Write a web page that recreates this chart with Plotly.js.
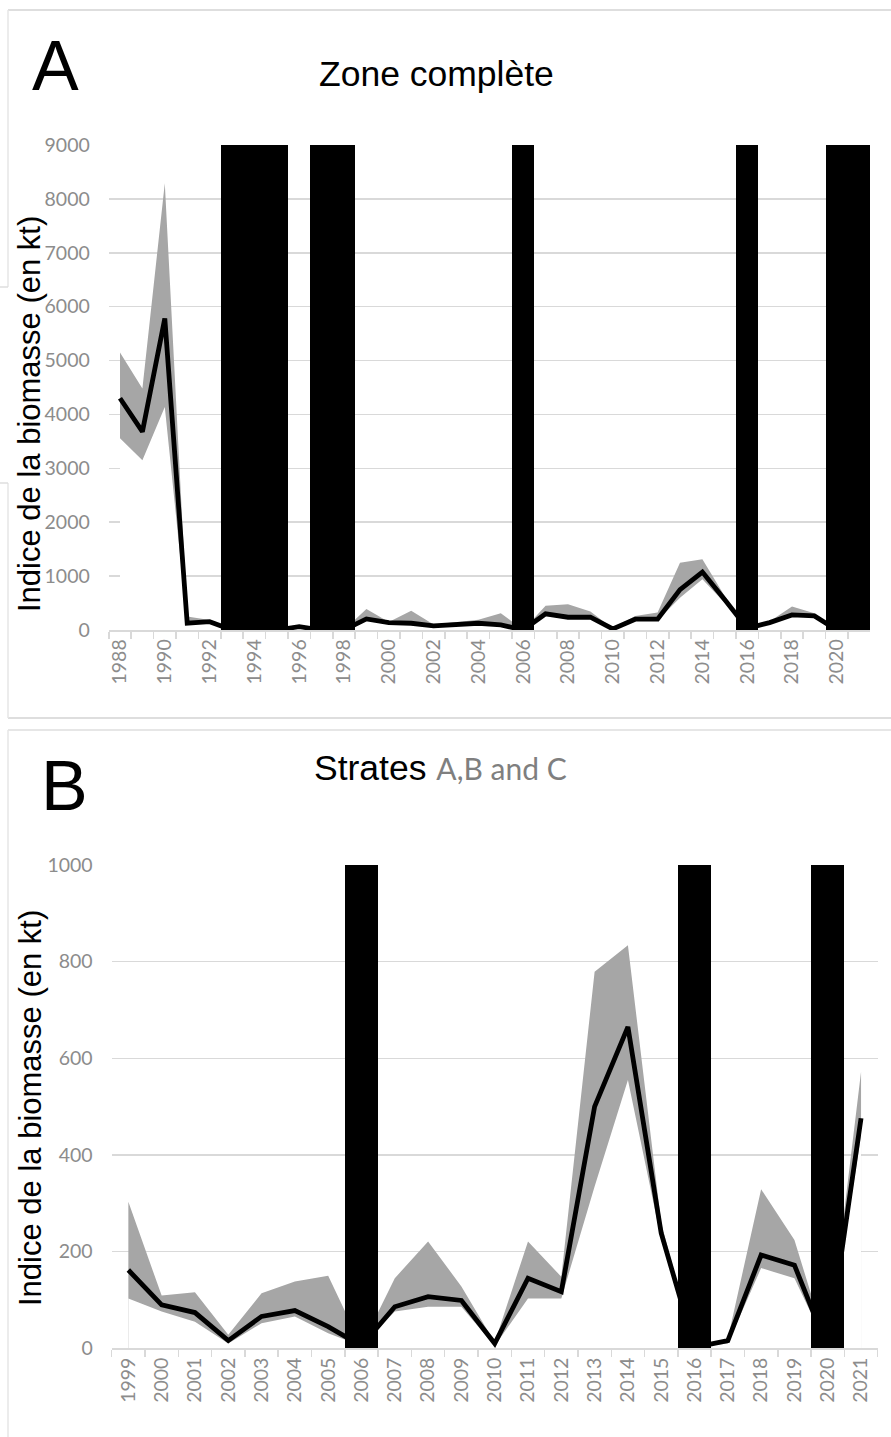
<!DOCTYPE html>
<html><head><meta charset="utf-8">
<script src="https://cdn.plot.ly/plotly-3.0.1.min.js"></script>
<style>html,body{margin:0;padding:0;background:#fff}#chart{width:891px;height:1437px}</style>
</head><body><div id="chart"></div>
<script>
// ---------- Panel A : Zone complète ----------
const yearsA = ['1988','1989','1990','1991','1992','1993','1994','1995','1996','1997','1998','1999','2000','2001','2002','2003','2004','2005','2006','2007','2008','2009','2010','2011','2012','2013','2014','2015','2016','2017','2018','2019','2020','2021'];
const biomassA = [4300,3680,5780,125,155,0,0,0,62,0,0,206,137,125,75,100,125,95,0,300,237,237,20,200,200,750,1075,562,30,137,281,262,0,0];
const upperA   = [5150,4480,8290,250,185,0,0,0,80,0,0,390,150,356,100,150,190,312,0,450,480,343,30,262,325,1250,1312,625,40,160,437,312,0,0];
const lowerA   = [3560,3150,4140,100,130,0,0,0,50,0,0,170,120,110,60,85,110,80,0,260,210,210,10,180,180,600,940,500,20,120,250,240,0,0];
const missingA = ['1993','1994','1995','1997','1998','2006','2016','2020','2021'];
const yTicksA  = [0,1000,2000,3000,4000,5000,6000,7000,8000,9000];
const tickTextA = yearsA.map((y,i) => i % 2 === 0 ? y : '');

// ---------- Panel B : Strates A,B and C ----------
const yearsB = ['1999','2000','2001','2002','2003','2004','2005','2006','2007','2008','2009','2010','2011','2012','2013','2014','2015','2016','2017','2018','2019','2020','2021'];
const biomassB = [162,90,74,16,66,78,45,5,86,107,99,10,145,117,500,665,238,2,16,193,172,0,476];
const upperB   = [303,109,116,28,114,138,150,5,145,221,128,12,221,148,779,834,259,2,20,329,224,0,572];
const lowerB   = [103,76,55,10,52,66,31,5,76,86,86,5,103,103,335,555,224,2,10,166,145,0,440];
const missingB = ['2006','2016','2020'];
const yTicksB  = [0,200,400,600,800,1000];

const yTitle = 'Indice de la biomasse (en kt)';

const W = 891, H = 1437;
const fx = p => p / W;
const fy = p => 1 - p / H;

const GRAY = '#a6a6a6', GRID = '#d9d9d9', TICK = '#8c8c8c';
const tickFont = {family: 'Lato, sans-serif', size: 19.5, color: TICK};
const titleFamily = '"Liberation Sans", Arial, sans-serif';

function bandTraces(x, up, lo, xa, ya) {
  return [
    {x: x, y: up, xaxis: xa, yaxis: ya, type: 'scatter', mode: 'lines', line: {width: 0, color: GRAY},
     fill: 'tozeroy', fillcolor: GRAY, hoverinfo: 'skip', showlegend: false},
    {x: x, y: lo, xaxis: xa, yaxis: ya, type: 'scatter', mode: 'lines', line: {width: 0, color: '#ffffff'},
     fill: 'tozeroy', fillcolor: '#ffffff', hoverinfo: 'skip', showlegend: false}
  ];
}

const data = [
  ...bandTraces(yearsA, upperA, lowerA, 'x', 'y'),
  {x: missingA, y: missingA.map(() => yTicksA[yTicksA.length - 1]), xaxis: 'x2', yaxis: 'y2', type: 'bar',
   width: 1, marker: {color: '#000000', line: {width: 0}}, showlegend: false, hoverinfo: 'skip'},
  {x: yearsA, y: biomassA, xaxis: 'x2', yaxis: 'y2', type: 'scatter', mode: 'lines',
   line: {color: '#000000', width: 4.8}, cliponaxis: false, showlegend: false},

  ...bandTraces(yearsB, upperB, lowerB, 'x3', 'y3'),
  {x: missingB, y: missingB.map(() => yTicksB[yTicksB.length - 1]), xaxis: 'x4', yaxis: 'y4', type: 'bar',
   width: 1, marker: {color: '#000000', line: {width: 0}}, showlegend: false, hoverinfo: 'skip'},
  {x: yearsB, y: biomassB, xaxis: 'x4', yaxis: 'y4', type: 'scatter', mode: 'lines',
   line: {color: '#000000', width: 4.8}, cliponaxis: false, showlegend: false}
];

function baseX(cats, ticktext, domain, anchor) {
  return {
    domain: domain, anchor: anchor, type: 'category', categoryorder: 'array', categoryarray: cats,
    range: [-0.5, cats.length - 0.5], tickmode: 'array', tickvals: cats, ticktext: ticktext,
    tickangle: -90, ticks: 'outside', tickson: 'boundaries', ticklen: 7, tickwidth: 1.5, tickcolor: GRID,
    showline: true, linecolor: GRID, linewidth: 1.5, showgrid: false, zeroline: false,
    tickfont: tickFont, fixedrange: true
  };
}
function baseY(ticks, domain, anchor) {
  return {
    domain: domain, anchor: anchor, range: [0, ticks[ticks.length - 1]], tickmode: 'array', tickvals: ticks,
    showgrid: true, gridcolor: GRID, gridwidth: 1.5, zeroline: false, showline: false, ticks: '',
    ticklabelstandoff: 18, tickfont: tickFont, fixedrange: true
  };
}

const layout = {
  width: W, height: H, margin: {l: 0, r: 0, t: 0, b: 0}, paper_bgcolor: '#ffffff', plot_bgcolor: 'rgba(0,0,0,0)',
  showlegend: false, bargap: 0, barmode: 'overlay',
  xaxis: baseX(yearsA, tickTextA, [fx(108.8), fx(870.4)], 'y'),
  yaxis: baseY(yTicksA, [fy(630), fy(145)], 'x'),
  xaxis2: {overlaying: 'x', anchor: 'y2', type: 'category', categoryorder: 'array', categoryarray: yearsA,
           range: [-0.5, yearsA.length - 0.5], visible: false, fixedrange: true},
  yaxis2: {overlaying: 'y', anchor: 'x2', range: [0, yTicksA[yTicksA.length - 1]], visible: false, fixedrange: true},
  xaxis3: baseX(yearsB, yearsB, [fx(111.7), fx(877.7)], 'y3'),
  yaxis3: baseY(yTicksB, [fy(1348.3), fy(865)], 'x3'),
  xaxis4: {overlaying: 'x3', anchor: 'y4', type: 'category', categoryorder: 'array', categoryarray: yearsB,
           range: [-0.5, yearsB.length - 0.5], visible: false, fixedrange: true},
  yaxis4: {overlaying: 'y3', anchor: 'x4', range: [0, yTicksB[yTicksB.length - 1]], visible: false, fixedrange: true},
  annotations: [
    {text: 'A', xref: 'paper', yref: 'paper', x: fx(30), y: fy(66), xanchor: 'left', yanchor: 'middle',
     showarrow: false, font: {family: titleFamily, size: 70, color: '#000'}},
    {text: 'Zone complète', xref: 'paper', yref: 'paper', x: fx(436), y: fy(74), xanchor: 'center', yanchor: 'middle',
     showarrow: false, font: {family: titleFamily, size: 35.5, color: '#000'}},
    {text: 'B', xref: 'paper', yref: 'paper', x: fx(39), y: fy(786), xanchor: 'left', yanchor: 'middle',
     showarrow: false, font: {family: titleFamily, size: 70, color: '#000'}},
    {text: 'Strates <span style="font-family:Lato, sans-serif;font-size:30px;color:#7f7f7f">A,B and C</span>',
     xref: 'paper', yref: 'paper', x: fx(440), y: fy(768), xanchor: 'center', yanchor: 'middle',
     showarrow: false, font: {family: titleFamily, size: 35.5, color: '#000'}},
    {text: yTitle, xref: 'paper', yref: 'paper', x: fx(30), y: fy(414), xanchor: 'center', yanchor: 'middle',
     textangle: -90, showarrow: false, font: {family: titleFamily, size: 31, color: '#000'}},
    {text: yTitle, xref: 'paper', yref: 'paper', x: fx(30), y: fy(1108), xanchor: 'center', yanchor: 'middle',
     textangle: -90, showarrow: false, font: {family: titleFamily, size: 31, color: '#000'}}
  ],
  shapes: [
    {type: 'line', xref: 'paper', yref: 'paper', x0: fx(8), x1: 1, y0: fy(10), y1: fy(10), line: {color: '#dedede', width: 2}, layer: 'below'},
    {type: 'line', xref: 'paper', yref: 'paper', x0: fx(8), x1: 1, y0: fy(718), y1: fy(718), line: {color: '#dedede', width: 2}, layer: 'below'},
    {type: 'line', xref: 'paper', yref: 'paper', x0: fx(8), x1: 1, y0: fy(730), y1: fy(730), line: {color: '#e6e6e6', width: 2}, layer: 'below'},
    {type: 'line', xref: 'paper', yref: 'paper', x0: fx(8), x1: fx(8), y0: fy(10), y1: fy(287), line: {color: '#e6e6e6', width: 1.5}, layer: 'below'},
    {type: 'line', xref: 'paper', yref: 'paper', x0: fx(8), x1: fx(8), y0: fy(483), y1: fy(718), line: {color: '#e6e6e6', width: 1.5}, layer: 'below'},
    {type: 'line', xref: 'paper', yref: 'paper', x0: fx(8), x1: fx(8), y0: fy(730), y1: 0, line: {color: '#e6e6e6', width: 1.5}, layer: 'below'},
    {type: 'line', xref: 'paper', yref: 'paper', x0: 0, x1: fx(8), y0: fy(287), y1: fy(287), line: {color: '#dedede', width: 1.5}, layer: 'below'},
    {type: 'line', xref: 'paper', yref: 'paper', x0: 0, x1: fx(8), y0: fy(483), y1: fy(483), line: {color: '#dedede', width: 1.5}, layer: 'below'}
  ]
};

Plotly.newPlot('chart', data, layout, {staticPlot: true, displayModeBar: false});
</script></body></html>
